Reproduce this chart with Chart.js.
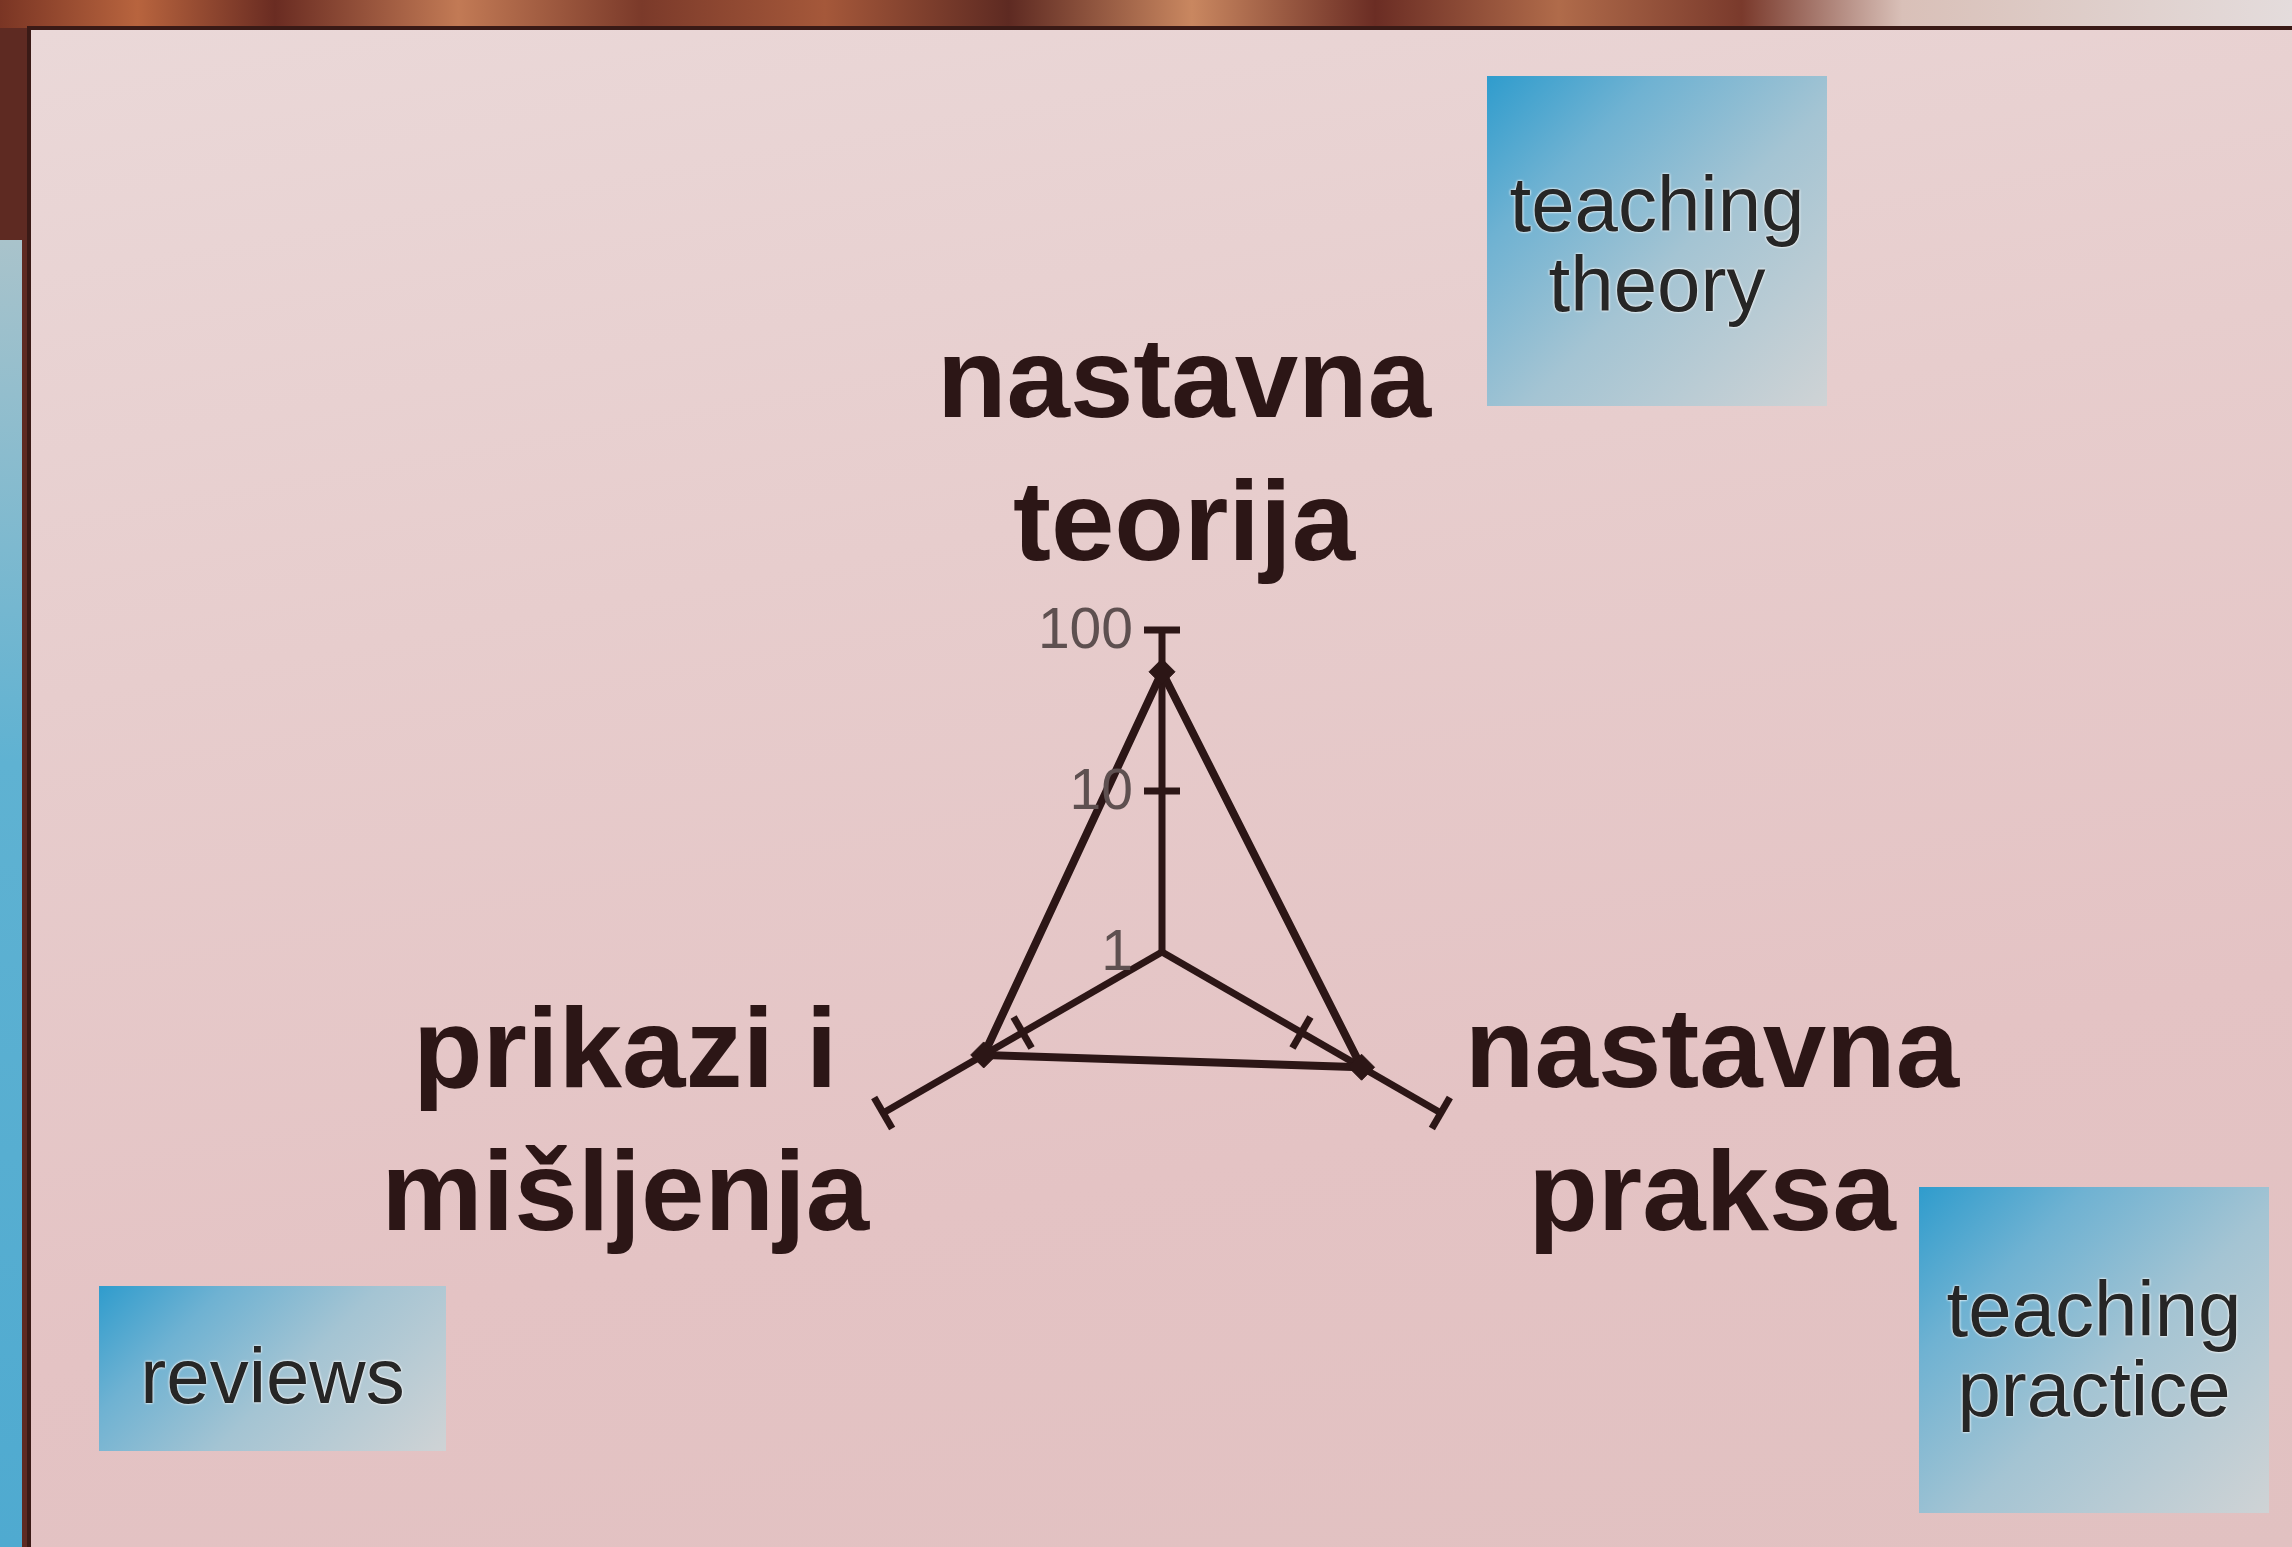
<!DOCTYPE html>
<html>
<head>
<meta charset="utf-8">
<script src="https://cdn.jsdelivr.net/npm/chart.js@4.4.1/dist/chart.umd.min.js"></script>
<style>
  html, body { margin: 0; padding: 0; width: 2292px; height: 1547px; overflow: hidden; }
  body { position: relative; background: #5e2a22; font-family: "Liberation Sans", Arial, sans-serif; }
  #topstrip { position: absolute; left: 0; top: 0; width: 2292px; height: 28px;
    background: linear-gradient(90deg, #7a3524 0%, #b8643e 6%, #6a2c22 12%, #c27a55 20%, #7b3a2a 28%, #a5583a 36%, #5e2a22 44%, #c98760 52%, #6b2d24 60%, #b06b4a 68%, #7a3a2c 76%, #d9c0b8 83%, #e4dcdc 100%); }
  #leftstrip { position: absolute; left: 0; top: 240px; width: 22px; height: 1307px;
    background: linear-gradient(180deg, #a9c3cb 0%, #5fb2d2 40%, #4faad0 100%); }
  #page { position: absolute; left: 27px; top: 26px; width: 2265px; height: 1521px;
    border-left: 4px solid #3a1a16; border-top: 4px solid #3a1a16; box-sizing: border-box;
    background: linear-gradient(170deg, #ead8d8 0%, #e7cdcd 35%, #e4c3c4 70%, #e1c1c1 100%); }
  .box { position: absolute; background: linear-gradient(135deg, #2f9ccd 0%, #6fb2d2 25%, #a4c4d3 55%, #cfd3d5 100%);
    color: #262626; font-family: "Liberation Sans", Arial, sans-serif; font-size: 78px; line-height: 80px;
    text-align: center; text-shadow: 0 0 3px #fff, 0 0 2px #fff; box-sizing: border-box; }
  canvas { position: absolute; left: 0; top: 0; }
</style>
</head>
<body>
<div id="topstrip"></div>
<div id="leftstrip"></div>
<div id="page"></div>
<div class="box" style="left:1487px; top:76px; width:340px; height:330px; padding-top:88px;">teaching<br>theory</div>
<div class="box" style="left:1919px; top:1187px; width:350px; height:326px; padding-top:82px;">teaching<br>practice</div>
<div class="box" style="left:99px; top:1286px; width:347px; height:165px; padding-top:50px;">reviews</div>
<canvas id="c" width="2292" height="1547"></canvas>
<script>
// ---- data ----
const categories = [["nastavna", "teorija"], ["nastavna", "praksa"], ["prikazi i", "mišljenja"]];
const seriesValues = [55, 27, 19];          // log-scale values (1 .. 100)
const tickValues = [1, 10, 100];
const tickLabels = ["1", "10", "100"];

const INK = "#2c1616";

const overlay = {
  id: "overlay",
  afterDatasetsDraw(chart) {
    const s = chart.scales.r;
    const ctx = chart.ctx;
    const cx = s.xCenter, cy = s.yCenter, R = s.drawingArea;
    const n = categories.length;
    ctx.save();
    // tick marks on each axis (10 and 100)
    ctx.strokeStyle = INK;
    ctx.lineWidth = 7;
    ctx.lineCap = "butt";
    for (let i = 0; i < n; i++) {
      const ang = s.getIndexAngle(i) - Math.PI / 2;
      const px = -Math.sin(ang), py = Math.cos(ang);
      tickValues.forEach(v => {
        if (v === 1) return;
        const d = s.getDistanceFromCenterForValue(Math.log10(v));
        const p = s.getPointPosition(i, d);
        const h = 18;
        ctx.beginPath();
        ctx.moveTo(p.x - px * h, p.y - py * h);
        ctx.lineTo(p.x + px * h, p.y + py * h);
        ctx.stroke();
      });
    }
    // tick labels along the top axis
    ctx.fillStyle = "#5e5050";
    ctx.font = "57px 'Liberation Sans', Arial, sans-serif";
    ctx.textAlign = "right";
    ctx.textBaseline = "middle";
    tickValues.forEach((v, k) => {
      const d = s.getDistanceFromCenterForValue(Math.log10(v));
      const p = s.getPointPosition(0, d);
      ctx.fillText(tickLabels[k], p.x - 29, p.y + 2);
    });
    // category labels
    ctx.fillStyle = INK;
    ctx.font = "bold 114px 'Liberation Sans', Arial, sans-serif";
    ctx.textAlign = "center";
    ctx.textBaseline = "alphabetic";
    const lh = 143;
    categories.forEach((lines, i) => {
      const widths = lines.map(t => ctx.measureText(t).width);
      const bw = Math.max(...widths);
      if (i === 0) {
        const p = s.getPointPosition(i, R + 70);
        lines.forEach((t, k) => ctx.fillText(t, p.x + 22, p.y - (lines.length - 1 - k) * lh));
      } else {
        const p = s.getPointPosition(i, R);
        const right = p.x > cx;
        const bx = right ? p.x + 24 + bw / 2 : p.x - 14 - bw / 2;
        lines.forEach((t, k) => ctx.fillText(t, bx, p.y - 26 + k * lh));
      }
    });
    ctx.restore();
  }
};

new Chart(document.getElementById("c"), {
  type: "radar",
  data: {
    labels: categories.map(c => c.join(" ")),
    datasets: [{
      data: seriesValues.map(v => Math.log10(v)),
      borderColor: INK,
      backgroundColor: "rgba(0,0,0,0)",
      borderWidth: 8,
      fill: false,
      pointStyle: "rectRot",
      pointRadius: 13,
      pointBackgroundColor: INK,
      pointBorderColor: INK,
      pointBorderWidth: 1
    }]
  },
  options: {
    responsive: false,
    animation: false,
    devicePixelRatio: 1,
    layout: { padding: { left: 840, right: 808, top: 630, bottom: 273 } },
    plugins: { legend: { display: false }, tooltip: { enabled: false } },
    scales: {
      r: {
        min: 0, max: 2,
        ticks: { display: false, stepSize: 1 },
        grid: { display: false },
        angleLines: { display: true, color: INK, lineWidth: 7 },
        pointLabels: { display: false }
      }
    }
  },
  plugins: [overlay]
});
</script>
</body>
</html>
